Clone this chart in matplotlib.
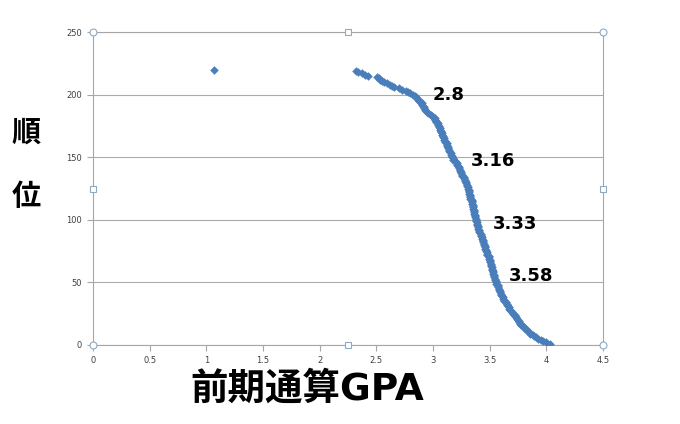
import matplotlib.pyplot as plt
import numpy as np

plt.rcParams['font.family'] = ['DejaVu Sans']
CJK = ['Noto Sans CJK JP', 'DejaVu Sans']

# GPA by rank (rank 1 = best)
gpa = [
    4.03, 4.00, 3.97, 3.95, 3.93, 3.91, 3.89, 3.88, 3.86, 3.85,
    3.84, 3.83, 3.81, 3.80, 3.79, 3.78, 3.77, 3.76, 3.76, 3.75,
    3.74, 3.73, 3.72, 3.72, 3.71, 3.70, 3.69, 3.68, 3.67, 3.67,
    3.66, 3.65, 3.65, 3.64, 3.63, 3.63, 3.62, 3.62, 3.61, 3.60,
    3.60, 3.59, 3.59, 3.58, 3.58, 3.57, 3.57, 3.57, 3.56, 3.56,
    3.56, 3.55, 3.55, 3.54, 3.54, 3.54, 3.53, 3.53, 3.53, 3.52,
    3.52, 3.52, 3.51, 3.51, 3.51, 3.50, 3.50, 3.50, 3.49, 3.49,
    3.49, 3.48, 3.48, 3.48, 3.47, 3.47, 3.46, 3.46, 3.46, 3.45,
    3.45, 3.44, 3.44, 3.44, 3.43, 3.43, 3.42, 3.42, 3.42, 3.41,
    3.41, 3.41, 3.40, 3.40, 3.40, 3.39, 3.39, 3.39, 3.38, 3.38,
    3.38, 3.37, 3.37, 3.37, 3.36, 3.36, 3.36, 3.36, 3.35, 3.35,
    3.35, 3.35, 3.34, 3.34, 3.34, 3.34,
    3.33, 3.33, 3.33, 3.33, 3.32, 3.32, 3.32, 3.32,
    3.31, 3.31, 3.30, 3.30, 3.29, 3.29, 3.28, 3.28,
    3.27, 3.27, 3.26, 3.26, 3.25, 3.25, 3.24, 3.24,
    3.23, 3.23, 3.22, 3.21, 3.21, 3.20, 3.19, 3.18,
    3.18, 3.17, 3.17, 3.16, 3.16, 3.15,
    3.14, 3.14, 3.13, 3.13, 3.12, 3.12, 3.12, 3.11,
    3.11, 3.10, 3.10, 3.09, 3.09, 3.08, 3.08, 3.07, 3.07, 3.06, 3.06,
    3.05, 3.05, 3.04, 3.04, 3.03, 3.03, 3.02, 3.02,
    3.00, 2.99, 2.98, 2.96, 2.95,
    2.94, 2.93, 2.92, 2.92, 2.91, 2.90, 2.90, 2.89,
    2.88, 2.87, 2.86, 2.85, 2.84, 2.82,
    2.80, 2.78, 2.76,
    2.73, 2.70, 2.66,
    2.64, 2.62, 2.59, 2.57, 2.55, 2.53, 2.52, 2.51,
    2.43, 2.40, 2.37, 2.34, 2.32,
]
rank = np.arange(1, len(gpa) + 1)

outlier_gpa = [1.07]
outlier_rank = [220]

labels = ['2.8', '3.16', '3.33', '3.58']
label_pos = [(3.14, 200), (3.53, 147), (3.72, 97), (3.865, 55)]

fig = plt.figure(figsize=(6.8, 4.24), dpi=100)
ax = fig.add_axes([93 / 680, 79 / 424, 510 / 680, 313 / 424])

ax.scatter(gpa, rank, marker='D', s=19, color='#4A7EBB', linewidths=0, zorder=3)
ax.scatter(outlier_gpa, outlier_rank, marker='D', s=19, color='#4A7EBB', linewidths=0, zorder=3)

ax.set_xlim(0, 4.5)
ax.set_ylim(0, 250)
ax.set_xticks(np.arange(0, 4.51, 0.5))
ax.set_xticklabels(['0', '0.5', '1', '1.5', '2', '2.5', '3', '3.5', '4', '4.5'])
ax.set_yticks(np.arange(0, 251, 50))
ax.yaxis.grid(True, color='#ABABAB', linewidth=0.8)
ax.set_axisbelow(True)
for s in ax.spines.values():
    s.set_color('#A6A6A6')
    s.set_linewidth(0.8)
ax.tick_params(labelsize=6, colors='#404040', length=4, width=0.8, pad=4)
ax.tick_params(color='#A6A6A6')

for t, (x, y) in zip(labels, label_pos):
    ax.text(x, y, t, fontsize=13, fontweight='bold', ha='center', va='center', color='black')

# selection handles of the plot area
for hx, hy, m in [(0, 0, 'o'), (0.5, 0, 's'), (1, 0, 'o'), (0, 0.5, 's'), (1, 0.5, 's'),
                  (0, 1, 'o'), (0.5, 1, 's'), (1, 1, 'o')]:
    ax.plot(hx, hy, marker=m, markersize=5 if m == 'o' else 4, markerfacecolor='white',
            markeredgecolor='#8EA9C1', markeredgewidth=0.8, transform=ax.transAxes,
            clip_on=False, zorder=5)

fig.text(26 / 680, 1 - 133 / 424, '順', fontsize=21, fontweight='bold', family=CJK,
         ha='center', va='center')
fig.text(26 / 680, 1 - 196 / 424, '位', fontsize=21, fontweight='bold', family=CJK,
         ha='center', va='center')
fig.text(307 / 680, 1 - 390 / 424, '前期通算GPA', fontsize=27, fontweight='bold',
         family=['DejaVu Sans', 'Noto Sans CJK JP'], ha='center', va='center')

fig.savefig('out.png', dpi=100, facecolor='white')
